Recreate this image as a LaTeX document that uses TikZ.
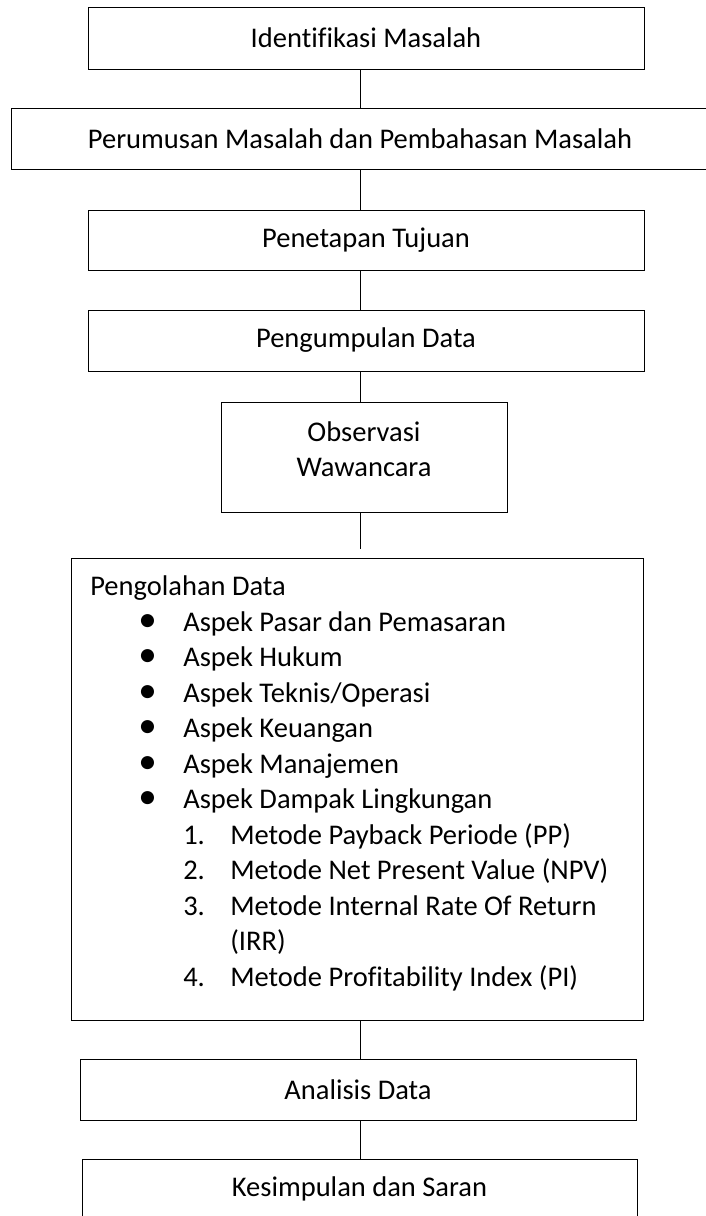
\documentclass[tikz,border=0pt]{standalone}
\usepackage{fontspec}
\setmainfont[Ligatures=NoCommon]{Carlito}
\usepackage{tikz}
\usetikzlibrary{shadows}
\newcommand{\butir}[1]{\hspace*{1.2cm}\makebox[1.125cm][l]{\scalebox{1.3}{\textbullet}}#1}
\newcommand{\nomor}[2]{\hspace*{2.325cm}\makebox[1.175cm][l]{#1}#2}
\tikzset{kotak/.style={draw, fill=white, line width=0.7pt,
           drop shadow={shadow xshift=1pt, shadow yshift=-1pt, opacity=1, fill=black}},
         garis/.style={line width=0.7pt}}

\begin{document}
\begin{tikzpicture}[font=\fontsize{20.27pt}{25.25pt}\selectfont]
\useasboundingbox (0,0) rectangle (17.625,-30.4);
\coordinate (poros) at (9,0);
\node[kotak, minimum width=13.9cm, minimum height=1.55cm] (identifikasi) at (9.15,-0.95) {Identifikasi Masalah};
\node[kotak, minimum width=17.45cm, minimum height=1.525cm] (perumusan) at (9,-3.4625) {Perumusan Masalah dan Pembahasan Masalah};
\node[kotak, minimum width=13.9cm, minimum height=1.5cm] (penetapan) at (9.15,-6) {Penetapan Tujuan};
\node[kotak, minimum width=13.9cm, minimum height=1.525cm] (pengumpulan) at (9.15,-8.5125) {Pengumpulan Data};
\node[kotak, minimum width=7.15cm, minimum height=2.75cm] (observasi) at (9.1,-11.425) {};
\node[align=center] (obsteks) at (9.1,-11.225) {Observasi\\Wawancara};
\coordinate (ujung) at (9,-13.725);
\node[kotak, minimum width=14.3cm, minimum height=11.55cm] (olah) at (8.925,-19.725) {};
% base of the last line
\node[anchor=base west, align=left, inner sep=0pt] (olahteks) at (2.25,-24.66) {Pengolahan Data\\
  \butir{Aspek Pasar dan Pemasaran}\\
  \butir{Aspek Hukum}\\
  \butir{Aspek Teknis/Operasi}\\
  \butir{Aspek Keuangan}\\
  \butir{Aspek Manajemen}\\
  \butir{Aspek Dampak Lingkungan}\\
  \nomor{1.}{Metode Payback Periode (PP)}\\
  \nomor{2.}{Metode Net Present Value (NPV)}\\
  \nomor{3.}{Metode Internal Rate Of Return}\\
  \hspace*{3.5cm}(IRR)\\
  \nomor{4.}{Metode Profitability Index (PI)}};
\node[kotak, minimum width=13.9cm, minimum height=1.525cm] (analisis) at (8.95,-27.2375) {Analisis Data};
\node[kotak, minimum width=13.875cm, minimum height=1.5cm] (kesimpulan) at (8.9875,-29.725) {Kesimpulan dan Saran};
\draw[garis] (poros |- identifikasi.south) -- (poros |- perumusan.north);
\draw[garis] (poros |- perumusan.south) -- (poros |- penetapan.north);
\draw[garis] (poros |- penetapan.south) -- (poros |- pengumpulan.north);
\draw[garis] (poros |- pengumpulan.south) -- (poros |- observasi.north);
\draw[garis] (poros |- observasi.south) -- (ujung);
\draw[garis] (poros |- olah.south) -- (poros |- analisis.north);
\draw[garis] (poros |- analisis.south) -- (poros |- kesimpulan.north);
\end{tikzpicture}
\end{document}
